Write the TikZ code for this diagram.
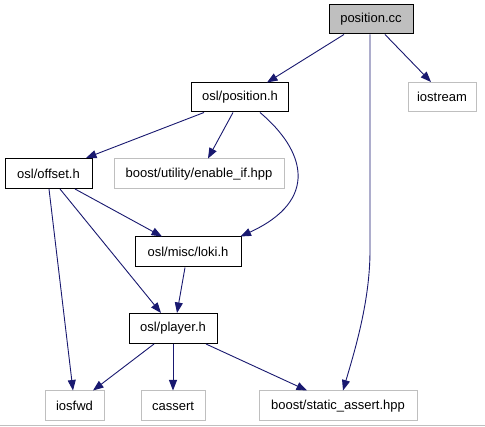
\documentclass[tikz,border=0pt]{standalone}
\usepackage{fontspec}
\setmainfont{Liberation Sans}
\usetikzlibrary{arrows.meta}
\definecolor{edgeblue}{HTML}{191970}
\definecolor{extgray}{HTML}{BFBFBF}
\begin{document}
\begin{tikzpicture}[x=1pt,y=-1pt,
  box/.style={draw=black,line width=1pt,fill=white,minimum height=29pt,inner sep=0pt,font=\fontsize{13}{15}\selectfont},
  extbox/.style={box,draw=extgray},
  mainbox/.style={box,fill=extgray},
  dep/.style={draw=edgeblue,line width=0.9pt,-{Triangle[length=10.5pt,width=8pt]}}]
\useasboundingbox (0,0) rectangle (485,427);
\fill[white] (0,0) rectangle (485,427);
\draw[extgray,line width=1pt] (0,426) -- (485,426);

\node[mainbox,minimum width=84pt] (pcc) at (371,19.5) {position.cc};
\node[box,minimum width=97pt] (ph) at (240,97.5) {osl/position.h};
\node[extbox,minimum width=68pt] (ios) at (442,97) {iostream};
\node[box,minimum width=87pt,minimum height=30pt] (off) at (48.5,173.5) {osl/offset.h};
\node[extbox,minimum width=170pt,minimum height=30pt] (ei) at (199,174) {boost/utility/enable\_if.hpp};
\node[box,minimum width=106pt,minimum height=30pt] (loki) at (188,252) {osl/misc/loki.h};
\node[box,minimum width=88pt,minimum height=30pt] (pl) at (173,328.5) {osl/player.h};
\node[extbox,minimum width=59pt,minimum height=30pt] (fwd) at (74.5,406) {iosfwd};
\node[extbox,minimum width=64pt,minimum height=30pt] (cas) at (173,406) {cassert};
\node[extbox,minimum width=158pt,minimum height=30pt] (sa) at (338,406) {boost/static\_assert.hpp};

\draw[dep] ([xshift=-27pt]pcc.south) -- ([xshift=27pt]ph.north);
\draw[dep] ([xshift=14pt]pcc.south) -- ([xshift=-11pt]ios.north);
\draw[dep] ([xshift=-1pt]pcc.south) -- ++(0,216) .. controls +(0,50) and (355,350) .. ([xshift=5pt]sa.north);
\draw[dep] ([xshift=-36pt]ph.south) -- ([xshift=37.5pt]off.north);
\draw[dep] ([xshift=-7pt]ph.south) -- ([xshift=9pt]ei.north);
\draw[dep] ([xshift=20pt]ph.south) .. controls +(45,38) and (320,200) .. ([xshift=-1pt]loki.north east);
\draw[dep] ([xshift=26.5pt]off.south) -- ([xshift=-26pt]loki.north);
\draw[dep] ([xshift=11.5pt]off.south) -- ([xshift=-12pt]pl.north);
\draw[dep] ([xshift=0.5pt]off.south) -- ([xshift=-1.5pt]fwd.north);
\draw[dep] ([xshift=-3pt]loki.south) -- ([xshift=4pt]pl.north);
\draw[dep] ([xshift=-19pt]pl.south) -- ([xshift=18.5pt]fwd.north);
\draw[dep] (pl.south) -- (cas.north);
\draw[dep] ([xshift=33pt]pl.south) -- ([xshift=-31pt]sa.north);
\end{tikzpicture}
\end{document}
